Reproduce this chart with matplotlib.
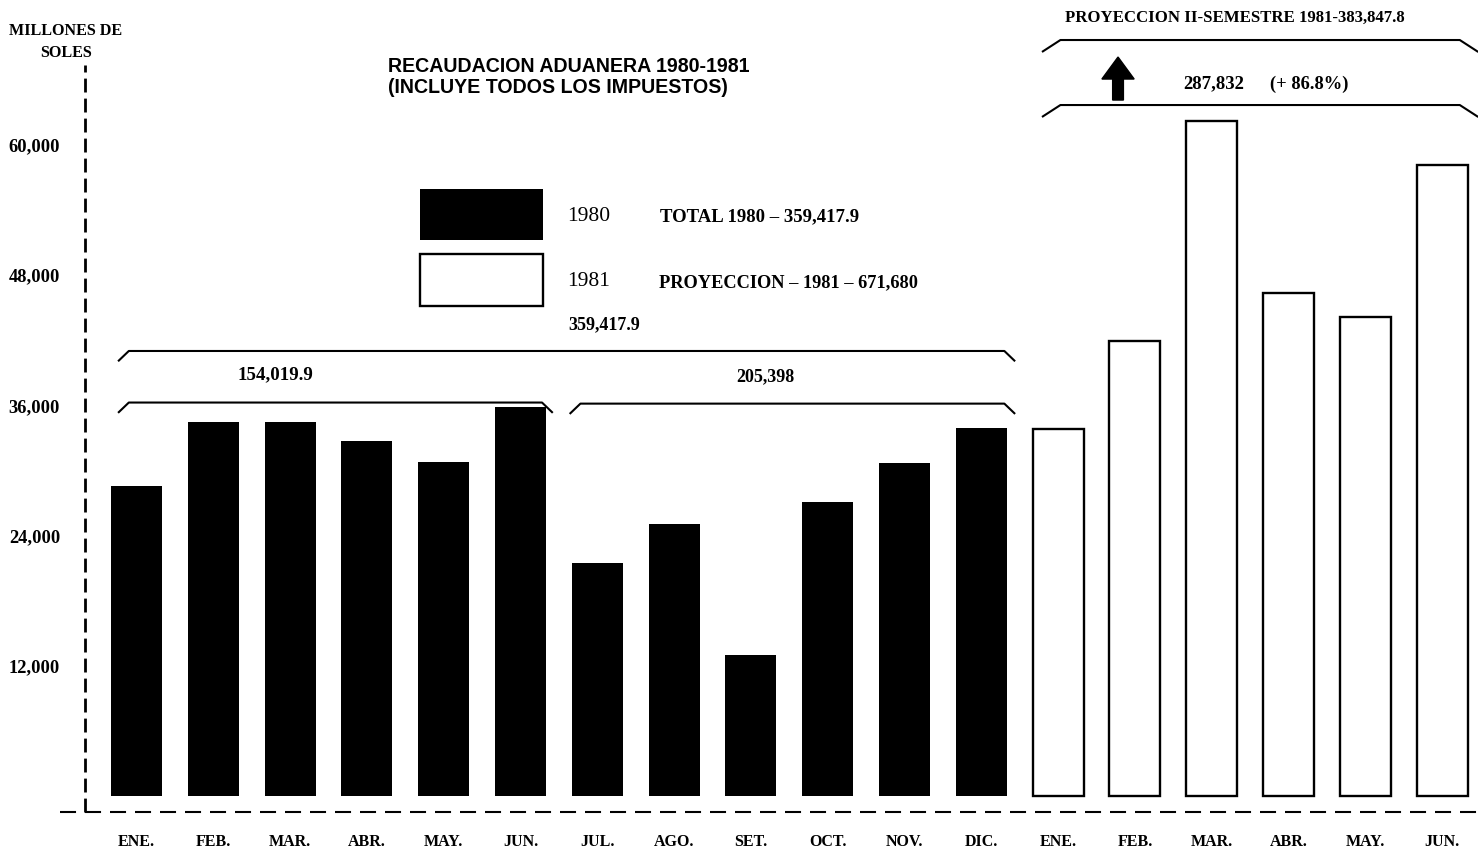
import matplotlib.pyplot as plt
import numpy as np
from matplotlib.patches import FancyArrow


MONTHS = ["ENE.", "FEB.", "MAR.", "ABR.", "MAY.", "JUN.", "JUL.", "AGO.", "SET.",
          "OCT.", "NOV.", "DIC.", "ENE.", "FEB.", "MAR.", "ABR.", "MAY.", "JUN."]
VALUES_1980 = [28600, 34500, 34500, 32700, 30800, 35800,
               21500, 25100, 13000, 27100, 30700, 33900]
VALUES_1981 = [33800, 41900, 62200, 46300, 44100, 58100]
Y_TICKS = [12000, 24000, 36000, 48000, 60000]

TOTAL_1980 = "359,417.9"
SEM1_1980 = "154,019.9"
SEM2_1980 = "205,398"
PROJ_1981 = "671,680"
PROJ_SEM2_1981 = "383,847.8"
SEM1_1981 = "287,832"
GROWTH = "(+ 86.8%)"

W, H = 1478, 855
SERIF = "Liberation Serif"
SANS = "Liberation Sans"

plt.rcParams["font.family"] = SERIF
plt.rcParams["font.weight"] = "bold"


def fig_xy(px, py):
    # pixel position in the picture -> figure fraction
    return px / W, 1 - py / H


def bracket(ax, x0, x1, y, drop, tip):
    ax.plot([x0, x0 + tip, x1 - tip, x1], [y - drop, y, y, y - drop],
            color="black", lw=1.5, clip_on=False, solid_capstyle="butt")


def main() -> None:
    fig = plt.figure(figsize=(W / 100, H / 100), dpi=100)
    fig.patch.set_facecolor("white")
    ax = fig.add_axes([60 / W, (H - 812) / H, (W - 60) / W, (812 - 65) / H])

    x80 = np.arange(len(VALUES_1980))
    x81 = np.arange(len(VALUES_1980), len(VALUES_1980) + len(VALUES_1981))
    b80 = ax.bar(x80, VALUES_1980, width=0.665, color="black", label="1980")
    b81 = ax.bar(x81, VALUES_1981, width=0.665, color="white",
                 edgecolor="black", linewidth=1.7, label="1981")

    ax.set_xlim(-0.996, 17.467)
    ax.set_ylim(-1474, 67348)
    for s in ax.spines.values():
        s.set_visible(False)

    # dashed axes
    ax.axvline(-0.67, color="black", lw=2, dashes=(5, 2.2), clip_on=False)
    ax.axhline(-1474, color="black", lw=1.5, dashes=(7.7, 4.3), clip_on=False)

    ax.set_xticks(list(x80) + list(x81), MONTHS)
    ax.set_yticks(Y_TICKS, [f"{t:,}" for t in Y_TICKS])
    ax.tick_params(axis="x", length=0, pad=16, labelsize=11.5)
    ax.tick_params(axis="y", length=0, pad=0, labelsize=13.3)

    fig.text(*fig_xy(66, 42), "MILLONES DE\nSOLES", ha="center", va="center",
             fontsize=11.6, linespacing=1.45)
    fig.text(*fig_xy(388, 57), "RECAUDACION ADUANERA 1980-1981\n(INCLUYE TODOS LOS IMPUESTOS)",
             ha="left", va="top", family=SANS, fontsize=14.1, linespacing=1.12)

    ax.legend([b80, b81], ["1980", "1981"], loc="upper left",
              bbox_to_anchor=fig_xy(420, 189), bbox_transform=fig.transFigure,
              frameon=False, prop={"family": SERIF, "size": 15.5, "weight": "normal"},
              handlelength=5.7, handleheight=3.3, handletextpad=1.15,
              labelspacing=0.65, borderpad=0, borderaxespad=0)

    fig.text(*fig_xy(660, 217), f"TOTAL 1980 \u2013 {TOTAL_1980}", va="center", fontsize=13.5)
    fig.text(*fig_xy(659, 283), f"PROYECCION \u2013 1981 \u2013 {PROJ_1981}", va="center", fontsize=13.2)
    fig.text(*fig_xy(568, 325), TOTAL_1980, va="center", fontsize=13)

    # brackets over the 1980 semesters
    bracket(ax, -0.24, 11.44, 41000, 950, 0.14)
    bracket(ax, -0.24, 5.42, 36250, 950, 0.14)
    bracket(ax, 5.64, 11.44, 36150, 950, 0.14)
    fig.text(*fig_xy(275, 375), SEM1_1980, ha="center", va="center", fontsize=13.6)
    fig.text(*fig_xy(765, 377), SEM2_1980, ha="center", va="center", fontsize=13)

    # 1981 projection
    bracket(ax, 11.79, 17.47, 69650, 1100, 0.24)
    bracket(ax, 11.79, 17.47, 63660, 1100, 0.24)
    fig.text(*fig_xy(1065, 18), f"PROYECCION II-SEMESTRE 1981-{PROJ_SEM2_1981}",
             va="center", fontsize=12.1)
    fig.text(*fig_xy(1183, 84), SEM1_1981, va="center", fontsize=13.5)
    fig.text(*fig_xy(1270, 84), GROWTH, va="center", fontsize=13.3)
    ax.add_patch(FancyArrow(12.78, 64120, 0, 3962, width=0.14, head_width=0.42,
                            head_length=2027, length_includes_head=True,
                            color="black", clip_on=False))

    fig.savefig("out.png", dpi=100)
    plt.close(fig)


if __name__ == "__main__":
    main()
